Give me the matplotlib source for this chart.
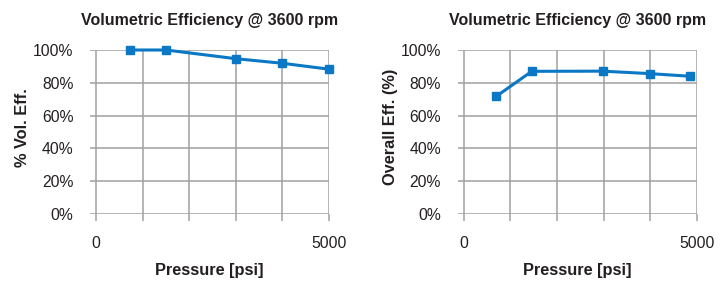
import matplotlib
matplotlib.use("Agg")
import matplotlib.pyplot as plt
from matplotlib.ticker import PercentFormatter

# Data
vol_pressure = [725, 1500, 3000, 4000, 5000]
vol_eff = [1.00, 1.00, 0.947, 0.919, 0.883]
ovr_pressure = [700, 1460, 2980, 3990, 4850]
ovr_eff = [0.718, 0.870, 0.871, 0.856, 0.840]
title_text = "Volumetric Efficiency @ 3600 rpm"
xlabel_text = "Pressure [psi]"
ylabels = ["% Vol. Eff.", "Overall Eff. (%)"]

plt.rcParams['font.family'] = ['Liberation Sans', 'DejaVu Sans']
bold_family = ['Liberation Sans', 'DejaVu Sans']

W, H = 726, 283
fig = plt.figure(figsize=(W / 100, H / 100), dpi=100)

line_color = '#0a78c4'
grid_color = '#a0a0a0'
text_color = '#231f20'

def make_ax(left_px, xdata, ydata, ylabel, ylabel_x, ylabel_y):
    ax = fig.add_axes([left_px / W, (H - 214) / H, 239 / W, 164 / H])
    ax.set_xlim(-130, 5000)
    ax.set_ylim(0, 1)
    for s in ax.spines.values():
        s.set_visible(False)
    ax.set_yticks([0, 0.2, 0.4, 0.6, 0.8, 1.0])
    ax.yaxis.set_major_formatter(PercentFormatter(1.0, decimals=0))
    ax.set_xticks([0, 1000, 2000, 3000, 4000, 5000])
    ax.set_xticklabels(['0', '', '', '', '', '5000'])
    ax.grid(True, color=grid_color, linewidth=1.1)
    ax.set_axisbelow(True)
    ax.tick_params(axis='x', length=5, width=1.1, color=grid_color, pad=11,
                   labelsize=11.3, labelcolor=text_color)
    ax.tick_params(axis='y', length=0, pad=12, labelsize=11.3, labelcolor=text_color)
    ax.plot(xdata, ydata, color=line_color, linewidth=2.2, marker='s',
            markersize=5.2, clip_on=False, zorder=3)
    ax.set_title(title_text, fontsize=11.5, fontweight='bold', family=bold_family,
                 color=text_color, pad=18)
    ax.set_xlabel(xlabel_text, fontsize=11.8, fontweight='bold', family=bold_family,
                  color=text_color)
    ax.xaxis.set_label_coords(0.5, -0.30)
    ax.set_ylabel(ylabel, fontsize=11.8, fontweight='bold', family=bold_family,
                  color=text_color)
    ax.yaxis.set_label_coords((ylabel_x - left_px) / 239, ylabel_y)
    return ax

make_ax(90, vol_pressure, vol_eff, ylabels[0], 30, 0.53)
make_ax(457.7, ovr_pressure, ovr_eff, ylabels[1], 398, 0.53)

fig.savefig('out.png', dpi=100)
